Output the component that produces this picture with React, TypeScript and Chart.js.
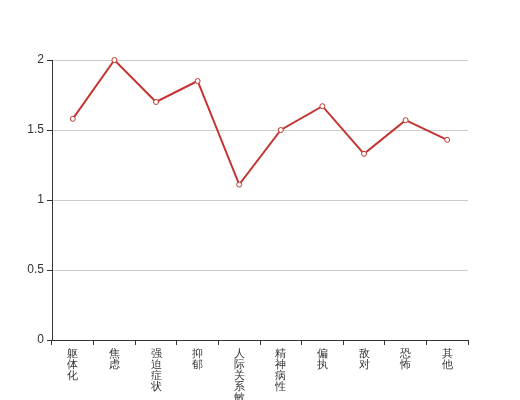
import React, { useEffect, useRef } from "react";
import { Chart, registerables } from "chart.js";

Chart.register(...registerables);

const categories = ["躯体化", "焦虑", "强迫症状", "抑郁", "人际关系敏感", "精神病性", "偏执", "敌对", "恐怖", "其他"];
const values = [1.58, 2.0, 1.7, 1.85, 1.11, 1.5, 1.67, 1.33, 1.57, 1.43];
const yTicks = [0, 0.5, 1, 1.5, 2];

export default function App() {
  const ref = useRef<HTMLCanvasElement | null>(null);
  useEffect(() => {
    if (!ref.current) return;
    const chart = new Chart(ref.current, {
      type: "line",
      data: {
        labels: categories.map((c) => c.split("")),
        datasets: [
          {
            data: values,
            borderColor: "#c23531",
            borderWidth: 2,
            pointRadius: 2.5,
            pointBorderWidth: 1,
            pointBackgroundColor: "#ffffff",
            pointBorderColor: "#c23531",
            tension: 0,
            clip: false as any,
          },
        ],
      },
      options: {
        responsive: false,
        animation: false,
        layout: { padding: { top: 60, right: 52, left: 0, bottom: 0 } },
        plugins: { legend: { display: false }, tooltip: { enabled: false } },
        scales: {
          x: {
            offset: true,
            afterFit: (s: any) => {
              s.height = 60;
            },
            grid: {
              display: true,
              drawOnChartArea: false,
              drawTicks: true,
              tickLength: 5,
              color: "#333333",
              tickColor: "#333333",
              offset: true,
            },
            border: { display: true, color: "#333333", width: 1 },
            ticks: {
              maxRotation: 0,
              minRotation: 0,
              autoSkip: false,
              padding: 3,
              color: "#333333",
              font: { family: "sans-serif", size: 11, lineHeight: 1 },
            },
          },
          y: {
            min: 0,
            max: 2,
            afterFit: (s: any) => {
              s.width = 52;
            },
            afterBuildTicks: (s: any) => {
              s.ticks = yTicks.map((v) => ({ value: v }));
            },
            grid: {
              color: (ctx: any) => (ctx.tick && ctx.tick.value === 0 ? "rgba(0,0,0,0)" : "#cccccc"),
              tickColor: "#333333",
              tickLength: 5,
              drawTicks: true,
            },
            border: { display: true, color: "#333333", width: 1 },
            ticks: {
              padding: 3,
              color: "#333333",
              font: { family: "sans-serif", size: 12 },
              callback: (v: any) => String(v),
            },
          },
        },
      },
    });
    return () => chart.destroy();
  }, []);
  return (
    <div style={{ position: "absolute", left: 0, top: 0, width: 520, height: 400, background: "#fff" }}>
      <canvas ref={ref} width={520} height={400} style={{ display: "block" }} />
    </div>
  );
}
